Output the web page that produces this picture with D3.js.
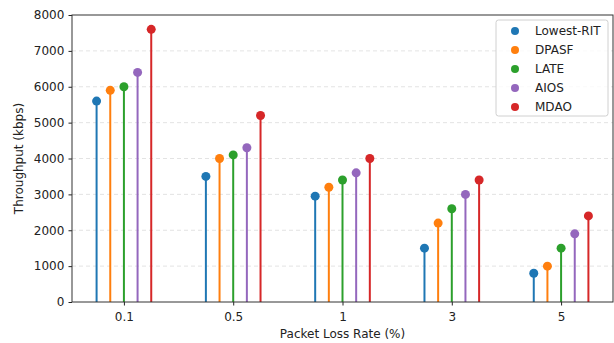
<!DOCTYPE html>
<html>
<head>
<meta charset="utf-8">
<script src="https://cdn.jsdelivr.net/npm/d3@7"></script>
<style>
body { margin: 0; background: #fff; }
svg text { font-family: "DejaVu Sans", sans-serif; fill: #222; }
</style>
</head>
<body>
<div id="chart"></div>
<script>
const categories = ['0.1', '0.5', '1', '3', '5']
const seriesNames = ['Lowest-RIT', 'DPASF', 'LATE', 'AIOS', 'MDAO']
const colors = ['#1f77b4', '#ff7f0e', '#2ca02c', '#9467bd', '#d62728']
const lowestRit = [5600, 3500, 2950, 1500, 800]
const dpasf = [5900, 4000, 3200, 2200, 1000]
const late = [6000, 4100, 3400, 2600, 1500]
const aios = [6400, 4300, 3600, 3000, 1900]
const mdao = [7600, 5200, 4000, 3400, 2400]
const yTicks = [0, 1000, 2000, 3000, 4000, 5000, 6000, 7000, 8000]

const allSeries = [lowestRit, dpasf, late, aios, mdao]

const width = 614, height = 343
const margin = {top: 15, right: 1, bottom: 41, left: 72}

const svg = d3.select('#chart').append('svg')
  .attr('width', width)
  .attr('height', height)

const x = d3.scaleLinear()
  .domain([-0.475, categories.length - 1 + 0.475])
  .range([margin.left, width - margin.right])

const y = d3.scaleLinear()
  .domain([0, 8000])
  .range([height - margin.bottom, margin.top])

const offset = d3.scaleLinear().domain([0, seriesNames.length - 1]).range([-0.25, 0.25])

// grid
svg.append('g')
  .selectAll('line')
  .data(yTicks.filter(t => t > 0 && t < 8000))
  .enter()
  .append('line')
  .attr('x1', margin.left)
  .attr('x2', width - margin.right)
  .attr('y1', d => y(d))
  .attr('y2', d => y(d))
  .attr('stroke', '#dcdcdc')
  .attr('stroke-width', 0.8)
  .attr('stroke-dasharray', '4,3')

// stems + markers
allSeries.forEach((vals, si) => {
  const g = svg.append('g')
  g.selectAll('line')
    .data(vals)
    .enter()
    .append('line')
    .attr('x1', (d, i) => x(i + offset(si)))
    .attr('x2', (d, i) => x(i + offset(si)))
    .attr('y1', y(0))
    .attr('y2', d => y(d))
    .attr('stroke', colors[si])
    .attr('stroke-width', 2)
  g.selectAll('circle')
    .data(vals)
    .enter()
    .append('circle')
    .attr('cx', (d, i) => x(i + offset(si)))
    .attr('cy', d => y(d))
    .attr('r', 4.5)
    .attr('fill', colors[si])
})

// axes
const xAxis = svg.append('g')
  .attr('transform', 'translate(0,' + y(0) + ')')
  .call(d3.axisBottom(x).tickValues(d3.range(categories.length)).tickFormat(i => categories[i]).tickSize(3.5).tickSizeOuter(0))
xAxis.select('.domain').remove()
xAxis.selectAll('text').attr('font-size', 12).attr('dy', '1.0em')
xAxis.selectAll('line').attr('stroke', '#222')

const yAxis = svg.append('g')
  .attr('transform', 'translate(' + margin.left + ',0)')
  .call(d3.axisLeft(y).tickValues(yTicks).tickFormat(d3.format('d')).tickSize(3.5).tickSizeOuter(0))
yAxis.select('.domain').remove()
yAxis.selectAll('text').attr('font-size', 12).attr('dx', '-0.1em')
yAxis.selectAll('line').attr('stroke', '#222')

// frame
svg.append('rect')
  .attr('x', margin.left)
  .attr('y', margin.top)
  .attr('width', width - margin.right - margin.left)
  .attr('height', height - margin.bottom - margin.top)
  .attr('fill', 'none')
  .attr('stroke', '#333')
  .attr('stroke-width', 1)

// labels
svg.append('text')
  .attr('x', (margin.left + width - margin.right) / 2)
  .attr('y', 338)
  .attr('text-anchor', 'middle')
  .attr('font-size', 12)
  .text('Packet Loss Rate (%)')

svg.append('text')
  .attr('transform', 'translate(23,' + (margin.top + height - margin.bottom) / 2 + ') rotate(-90)')
  .attr('text-anchor', 'middle')
  .attr('font-size', 12)
  .text('Throughput (kbps)')

// legend
const legend = svg.append('g').attr('transform', 'translate(496,20)')
legend.append('rect')
  .attr('width', 112)
  .attr('height', 96)
  .attr('rx', 2.5)
  .attr('fill', '#fff')
  .attr('fill-opacity', 0.8)
  .attr('stroke', '#d0d0d0')
legend.selectAll('circle')
  .data(seriesNames)
  .enter()
  .append('circle')
  .attr('cx', 19)
  .attr('cy', (d, i) => 11 + i * 19)
  .attr('r', 4)
  .attr('fill', (d, i) => colors[i])
legend.selectAll('text')
  .data(seriesNames)
  .enter()
  .append('text')
  .attr('x', 39)
  .attr('y', (d, i) => 11 + i * 19)
  .attr('dy', '0.35em')
  .attr('font-size', 12)
  .text(d => d)
</script>
</body>
</html>
